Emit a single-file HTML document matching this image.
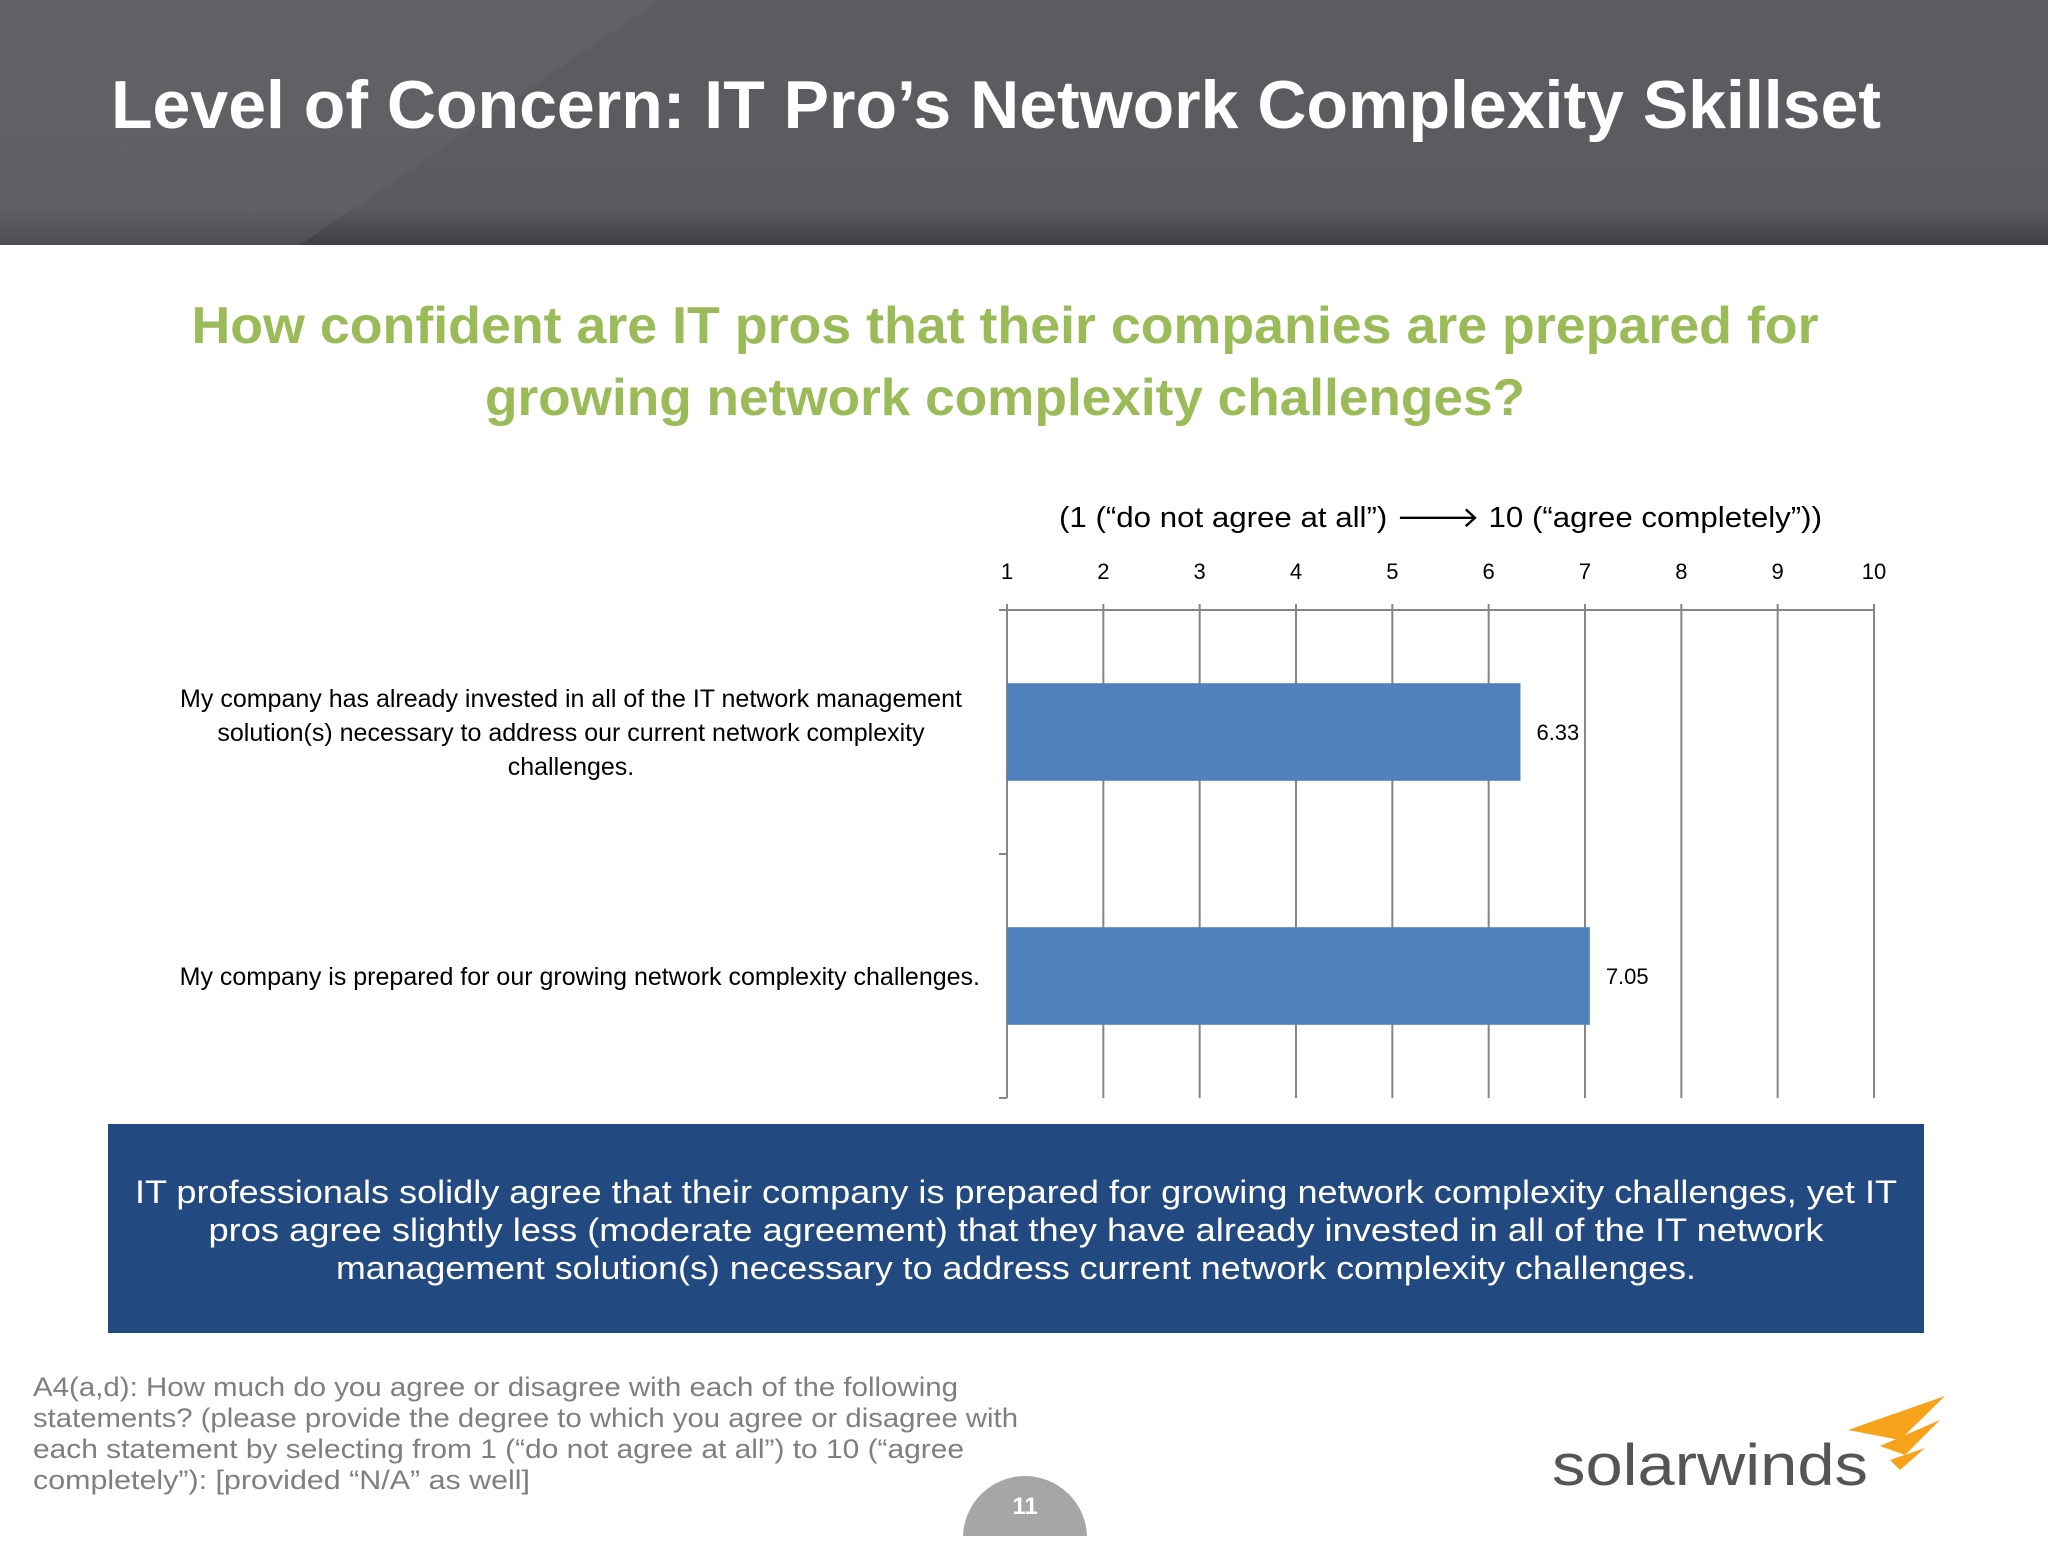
<!DOCTYPE html>
<html><head><meta charset="utf-8"><style>
body{margin:0;width:2048px;height:1536px;overflow:hidden;background:#fff;font-family:"Liberation Sans",sans-serif}
</style></head><body>
<svg width="2048" height="1536" xmlns="http://www.w3.org/2000/svg">
<defs>
<linearGradient id="hg" x1="0" y1="0" x2="0" y2="1">
<stop offset="0" stop-color="#5c5d61"/><stop offset="0.85" stop-color="#5a5b5f"/><stop offset="1" stop-color="#3e3f42"/>
</linearGradient>
</defs>
<rect x="0" y="0" width="2048" height="245" fill="url(#hg)"/>
<polygon points="0,0 660,0 300,245 0,245" fill="#6a6b6f" opacity="0.35"/>
<text x="111" y="128" font-size="68" font-weight="bold" fill="#fff" textLength="1770" lengthAdjust="spacingAndGlyphs">Level of Concern: IT Pro’s Network Complexity Skillset</text>
<g fill="#9bbb59" font-size="52" font-weight="bold" text-anchor="middle">
<text x="1005" y="343" textLength="1627" lengthAdjust="spacingAndGlyphs">How confident are IT pros that their companies are prepared for</text>
<text x="1005" y="415" textLength="1040" lengthAdjust="spacingAndGlyphs">growing network complexity challenges?</text>
</g>
<text x="1059" y="527" font-size="29" fill="#000" textLength="763" lengthAdjust="spacingAndGlyphs">(1 (“do not agree at all”)  🡒  10 (“agree completely”))</text>
<g id="chart"></g>
<rect x="108" y="1124" width="1816" height="209" fill="#234a80"/>
<g fill="#fff" font-size="32" text-anchor="middle">
<text x="1016" y="1203" textLength="1762" lengthAdjust="spacingAndGlyphs">IT professionals solidly agree that their company is prepared for growing network complexity challenges, yet IT</text>
<text x="1016" y="1241" textLength="1615" lengthAdjust="spacingAndGlyphs">pros agree slightly less (moderate agreement) that they have already invested in all of the IT network</text>
<text x="1016" y="1279" textLength="1360" lengthAdjust="spacingAndGlyphs">management solution(s) necessary to address current network complexity challenges.</text>
</g>
<g fill="#7f7f7f" font-size="27">
<text x="33" y="1396" textLength="925" lengthAdjust="spacingAndGlyphs">A4(a,d): How much do you agree or disagree with each of the following</text>
<text x="33" y="1427" textLength="985" lengthAdjust="spacingAndGlyphs">statements? (please provide the degree to which you agree or disagree with</text>
<text x="33" y="1458" textLength="931" lengthAdjust="spacingAndGlyphs">each statement by selecting from 1 (“do not agree at all”) to 10 (“agree</text>
<text x="33" y="1489" textLength="497" lengthAdjust="spacingAndGlyphs">completely”): [provided “N/A” as well]</text>
</g>
<text x="1552" y="1485" font-size="58" fill="#555" textLength="316" lengthAdjust="spacingAndGlyphs">solarwinds</text>
<g fill="#f7a21b">
<polygon points="1848,1430 1945,1396 1900,1440"/>
<polygon points="1880,1446 1940,1420 1905,1455"/>
<polygon points="1890,1460 1925,1448 1900,1470"/>
</g>
<circle cx="1025" cy="1538" r="62" fill="#a6a6a6"/>
<text x="1025" y="1514" font-size="24" font-weight="bold" fill="#fff" text-anchor="middle">11</text>
</svg>
<script>
const categories=["My company has already invested in all of the IT network management|solution(s) necessary to address our current network complexity|challenges.","My company is prepared for our growing network complexity challenges."];
const values=[6.33,7.05];
const valueLabels=["6.33","7.05"];
const ticks=[1,2,3,4,5,6,7,8,9,10];
const NS="http://www.w3.org/2000/svg";
const g=document.getElementById('chart');
const x0=1007,x1=1874,plotTop=610,plotBot=1098;
const x=v=>x0+(v-1)/(10-1)*(x1-x0);
const band=(plotBot-plotTop)/categories.length;
function mk(t,a){const e=document.createElementNS(NS,t);for(const k in a)e.setAttribute(k,a[k]);g.appendChild(e);return e;}
ticks.forEach(t=>{
 const l=mk('line',{x1:x(t),x2:x(t),y1:plotTop,y2:plotBot,stroke:'#868686','stroke-width':2});
 
 
 const tl=mk('text',{x:x(t),y:579,'font-size':22,'text-anchor':'middle',fill:'#000'});
 tl.textContent=t;
 
 
 const tk=mk('line',{x1:x(t),x2:x(t),y1:plotTop-6,y2:plotTop,stroke:'#868686','stroke-width':2});
 
 
});
const ax=mk('line',{x1:x0-8,x2:x1,y1:plotTop,y2:plotTop,stroke:'#868686','stroke-width':2});


for(let i=0;i<=categories.length;i++){
 const t=mk('line',{x1:x0-8,x2:x0,y1:plotTop+i*band,y2:plotTop+i*band,stroke:'#868686','stroke-width':2});
 
 
}
categories.forEach((c,i)=>{
 const yc=plotTop+band*(i+0.5);
 const bh=band*0.4;
 const r=mk('rect',{x:x0,y:yc-bh/2,width:x(values[i])-x0,height:bh,fill:'#4f81bd'});
 
 
 const vl=mk('text',{x:x(values[i])+16,y:yc+8,'font-size':22,fill:'#000'});
 vl.textContent=valueLabels[i];
 
 
 const lines=c.split('|');
 lines.forEach((s,j)=>{
  const ty=yc+9+(j-(lines.length-1)/2)*34;
  const multi=lines.length>1;
  const t=mk('text',{x:multi?571:980,y:ty,'font-size':25,fill:'#000','text-anchor':multi?'middle':'end'});
  t.textContent=s;
  
  
 });
});
</script>
</body></html>
